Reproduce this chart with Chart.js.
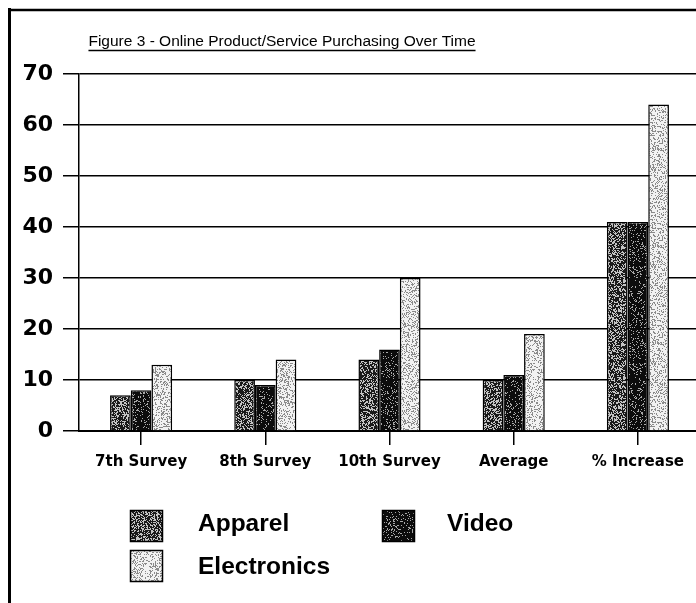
<!DOCTYPE html>
<html>
<head>
<meta charset="utf-8">
<script src="https://cdn.jsdelivr.net/npm/chart.js@4/dist/chart.umd.min.js"></script>
<style>
  html, body { margin: 0; padding: 0; background: #fff; overflow: hidden; }
  #wrap { width: 700px; height: 603px; }
</style>
</head>
<body>
<div id="wrap"><canvas id="c" width="700" height="603"></canvas></div>
<script>
// Survey data (percent of respondents buying each product type online)
const categories = ['7th Survey', '8th Survey', '10th Survey', 'Average', '% Increase'];
const apparel = [7, 10, 14, 10, 41];
const video = [8, 9, 16, 11, 41];
const electronics = [13, 14, 30, 19, 64];
const yTickValues = [0, 10, 20, 30, 40, 50, 60, 70];
const titleText = 'Figure 3 - Online Product/Service Purchasing Over Time';

// Deterministic hash used to build the stippled fill textures
function hash(x, y, s) {
  let h = (Math.imul(x, 374761393) + Math.imul(y, 668265263) + Math.imul(s, 982451653)) | 0;
  h = Math.imul(h ^ (h >>> 13), 1274126177);
  h ^= h >>> 16;
  return (h >>> 0) / 4294967296;
}

function stipple(dark, light, density, seed) {
  const size = 97;
  const c = document.createElement('canvas');
  c.width = size; c.height = size;
  const g = c.getContext('2d');
  g.fillStyle = light;
  g.fillRect(0, 0, size, size);
  g.fillStyle = dark;
  for (let y = 0; y < size; y++) {
    for (let x = 0; x < size; x++) {
      if (hash(x, y, seed) < density) g.fillRect(x, y, 1, 1);
    }
  }
  return g.createPattern(c, 'repeat');
}

const ctx0 = document.getElementById('c').getContext('2d');
const fillApparel = stipple('#1a1a1a', '#c4c4c4', 0.62, 11);
const fillVideo = stipple('#0c0c0c', '#a8a8a8', 0.84, 23);
const fillElectronics = stipple('#8a8a8a', '#f2f2f2', 0.3, 37);

const BASE_FONT = 'DejaVu Sans';

// Frame lines and underlined heading
const framePlugin = {
  id: 'frame',
  afterDraw(chart) {
    const ctx = chart.ctx;
    ctx.save();
    ctx.strokeStyle = '#000';
    ctx.lineWidth = 3;
    ctx.beginPath();
    ctx.moveTo(9.5, 8);
    ctx.lineTo(9.5, 603);
    ctx.stroke();
    ctx.lineWidth = 2.5;
    ctx.beginPath();
    ctx.moveTo(8, 10);
    ctx.lineTo(700, 10);
    ctx.stroke();

    ctx.font = '15.5px "Liberation Sans", Arial, sans-serif';
    ctx.fillStyle = '#000';
    ctx.textAlign = 'center';
    ctx.textBaseline = 'alphabetic';
    const cx = 282, by = 46;
    ctx.fillText(titleText, cx, by);
    const w = ctx.measureText(titleText).width;
    ctx.lineWidth = 1.5;
    ctx.beginPath();
    ctx.moveTo(cx - w / 2, by + 4.5);
    ctx.lineTo(cx + w / 2, by + 4.5);
    ctx.stroke();
    ctx.restore();
  }
};

// Legend laid out in two columns below the axis
const legendPlugin = {
  id: 'gridLegend',
  afterDraw(chart) {
    const ctx = chart.ctx;
    const slots = [
      { x: 130, y: 510, tx: 198, ty: 531 },
      { x: 382, y: 510, tx: 447, ty: 531 },
      { x: 130, y: 550, tx: 198, ty: 573.5 }
    ];
    ctx.save();
    ctx.font = 'bold 24.5px "Liberation Sans", Arial, sans-serif';
    ctx.textAlign = 'left';
    ctx.textBaseline = 'alphabetic';
    chart.data.datasets.forEach((ds, i) => {
      const s = slots[i];
      ctx.fillStyle = ds.backgroundColor;
      ctx.fillRect(s.x, s.y, 33, 32);
      ctx.strokeStyle = '#000';
      ctx.lineWidth = 1.5;
      ctx.strokeRect(s.x + 0.5, s.y + 0.5, 32, 31);
      ctx.fillStyle = '#000';
      ctx.fillText(ds.label, s.tx, s.ty);
    });
    ctx.restore();
  }
};

new Chart(ctx0, {
  type: 'bar',
  data: {
    labels: categories,
    datasets: [
      { label: 'Apparel', data: apparel, backgroundColor: fillApparel, borderColor: '#000', borderWidth: 1.5 },
      { label: 'Video', data: video, backgroundColor: fillVideo, borderColor: '#000', borderWidth: 1.5 },
      { label: 'Electronics', data: electronics, backgroundColor: fillElectronics, borderColor: '#000', borderWidth: 1.5 }
    ]
  },
  options: {
    responsive: false,
    animation: false,
    devicePixelRatio: 1,
    layout: { padding: { top: 74, left: 0, right: 0, bottom: 0 } },
    datasets: { bar: { categoryPercentage: 0.5, barPercentage: 1 } },
    plugins: {
      legend: { display: false },
      title: { display: false },
      tooltip: { enabled: false }
    },
    scales: {
      x: {
        afterFit(scale) { scale.height = 172; },
        grid: {
          offset: false,
          drawOnChartArea: false,
          drawTicks: true,
          tickLength: 14,
          color: '#000',
          lineWidth: 1.5
        },
        border: { display: true, color: '#000', width: 2 },
        ticks: {
          color: '#000',
          padding: 8,
          maxRotation: 0,
          autoSkip: false,
          font: { family: BASE_FONT, size: 15, weight: 'bold' }
        }
      },
      y: {
        min: 0,
        max: 70,
        afterFit(scale) { scale.width = 79; },
        afterBuildTicks(scale) { scale.ticks = yTickValues.map(v => ({ value: v })); },
        grid: {
          color: '#000',
          lineWidth: 1.5,
          drawTicks: true,
          tickLength: 16
        },
        border: { display: true, color: '#000', width: 1.5 },
        ticks: {
          color: '#000',
          padding: 10,
          font: { family: BASE_FONT, size: 22, weight: 'bold' }
        }
      }
    }
  },
  plugins: [framePlugin, legendPlugin]
});
</script>
</body>
</html>
